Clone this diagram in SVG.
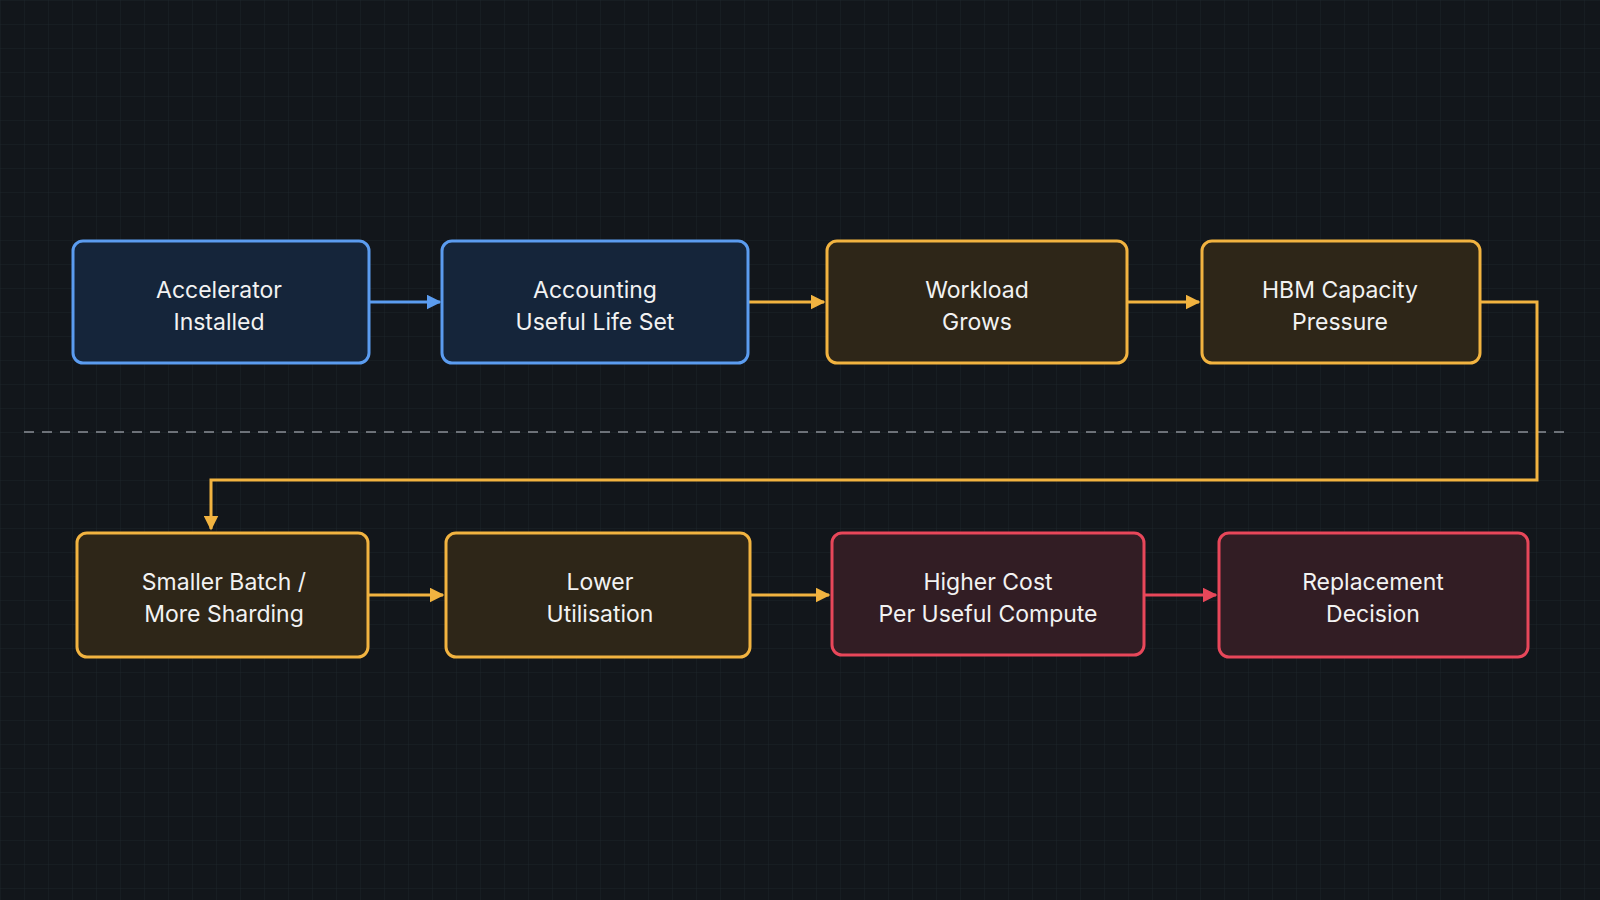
<svg xmlns="http://www.w3.org/2000/svg" width="1600" height="900" viewBox="0 0 1600 900">
<defs>
<pattern id="grid" width="24" height="24" patternUnits="userSpaceOnUse"><path d="M24 0H0V24" fill="none" stroke="#1c232a" stroke-width="1"/></pattern>
<marker id="ab" viewBox="0 0 10 10" refX="9" refY="5" markerWidth="5" markerHeight="5" orient="auto"><path d="M0 0L10 5L0 10z" fill="#5b9cf0"/></marker>
<marker id="ao" viewBox="0 0 10 10" refX="9" refY="5" markerWidth="5" markerHeight="5" orient="auto"><path d="M0 0L10 5L0 10z" fill="#f2b340"/></marker>
<marker id="ar" viewBox="0 0 10 10" refX="9" refY="5" markerWidth="5" markerHeight="5" orient="auto"><path d="M0 0L10 5L0 10z" fill="#e8475a"/></marker>
</defs>
<style>
text{font-family:Inter,"Noto Sans",sans-serif;font-size:23px;fill:#f2f2f2;text-anchor:middle}
.b{fill:#15253a;stroke:#5b9cf0;stroke-width:3}
.o{fill:#2e2618;stroke:#f2b340;stroke-width:3}
.r{fill:#321d24;stroke:#e8475a;stroke-width:3}
.c{fill:none;stroke-width:3}
</style>
<rect width="1600" height="900" fill="#12161b"/>
<rect width="1600" height="900" fill="url(#grid)"/>
<line x1="24" y1="432" x2="1571" y2="432" stroke="#8a8f96" stroke-width="1.5" stroke-dasharray="10 8"/>
<g id="connectors">
<path class="c" d="M369 302H440" stroke="#5b9cf0" marker-end="url(#ab)"/>
<path class="c" d="M748 302H824" stroke="#f2b340" marker-end="url(#ao)"/>
<path class="c" d="M1127 302H1199" stroke="#f2b340" marker-end="url(#ao)"/>
<path class="c" d="M1480 302H1537V480H211V529" stroke="#f2b340" marker-end="url(#ao)"/>
<path class="c" d="M368 595H443" stroke="#f2b340" marker-end="url(#ao)"/>
<path class="c" d="M750 595H829" stroke="#f2b340" marker-end="url(#ao)"/>
<path class="c" d="M1144 595H1216" stroke="#e8475a" marker-end="url(#ar)"/>
</g>
<g id="n1"><rect class="b" x="73" y="241" width="296" height="122" rx="10"/><text x="219" y="298">Accelerator</text><text x="219" y="330">Installed</text></g>
<g id="n2"><rect class="b" x="442" y="241" width="306" height="122" rx="10"/><text x="595" y="298">Accounting</text><text x="595" y="330">Useful Life Set</text></g>
<g id="n3"><rect class="o" x="827" y="241" width="300" height="122" rx="10"/><text x="977" y="298">Workload</text><text x="977" y="330">Grows</text></g>
<g id="n4"><rect class="o" x="1202" y="241" width="278" height="122" rx="10"/><text x="1340" y="298">HBM Capacity</text><text x="1340" y="330">Pressure</text></g>
<g id="n5"><rect class="o" x="77" y="533" width="291" height="124" rx="10"/><text x="224" y="590">Smaller Batch /</text><text x="224" y="622">More Sharding</text></g>
<g id="n6"><rect class="o" x="446" y="533" width="304" height="124" rx="10"/><text x="600" y="590">Lower</text><text x="600" y="622">Utilisation</text></g>
<g id="n7"><rect class="r" x="832" y="533" width="312" height="122" rx="10"/><text x="988" y="590">Higher Cost</text><text x="988" y="622">Per Useful Compute</text></g>
<g id="n8"><rect class="r" x="1219" y="533" width="309" height="124" rx="10"/><text x="1373" y="590">Replacement</text><text x="1373" y="622">Decision</text></g>
</svg>
